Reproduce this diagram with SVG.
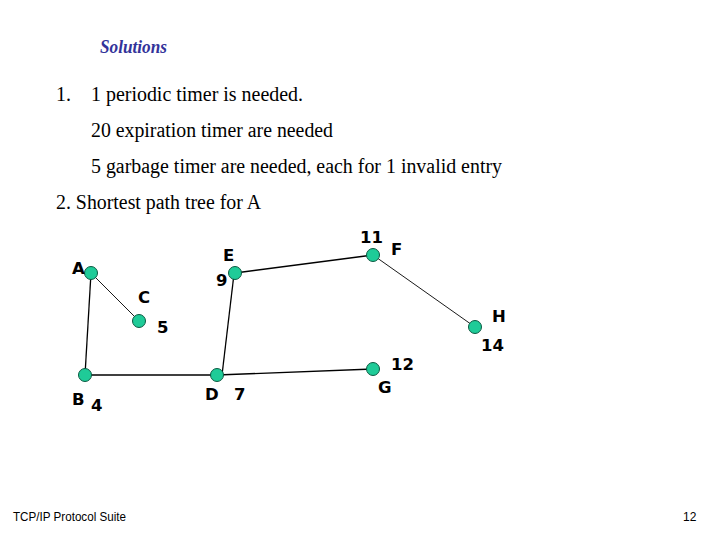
<svg xmlns="http://www.w3.org/2000/svg" width="720" height="540" viewBox="0 0 720 540">
<style>
.body{font-family:"Liberation Serif","Times New Roman",serif;font-size:20px;fill:#000}
.lbl{font-family:"DejaVu Sans",Verdana,sans-serif;font-size:16.5px;font-weight:bold;fill:#000}
.node{fill:#1fcb98;stroke:#0b5a42;stroke-width:1}
.edge{stroke:#000;stroke-width:1.3;fill:none}
.thin{stroke:#000;stroke-width:0.9;fill:none}
.foot{font-family:"Liberation Sans",Arial,sans-serif;font-size:12px;fill:#000}
</style>
<rect width="720" height="540" fill="#fff"/>
<text x="100" y="53" font-family="Liberation Serif,serif" font-style="italic" font-weight="bold" font-size="18" fill="#33339a" textLength="67" lengthAdjust="spacingAndGlyphs">Solutions</text>
<text class="body" x="56" y="101">1.</text>
<text class="body" x="91" y="101" textLength="212" lengthAdjust="spacingAndGlyphs">1 periodic timer is needed.</text>
<text class="body" x="91" y="137" textLength="242" lengthAdjust="spacingAndGlyphs">20 expiration timer are needed</text>
<text class="body" x="91" y="173" textLength="411" lengthAdjust="spacingAndGlyphs">5 garbage timer are needed, each for 1 invalid entry</text>
<text class="body" x="56" y="209" textLength="205" lengthAdjust="spacingAndGlyphs">2. Shortest path tree for A</text>
<g id="connectors">
<line class="thin" x1="91" y1="273" x2="139" y2="321"/>
<line class="edge" x1="91" y1="273" x2="85" y2="375"/>
<line class="edge" x1="85" y1="375" x2="217" y2="375"/>
<line class="edge" x1="222" y1="375" x2="234" y2="274"/>
<line class="edge" x1="235" y1="273" x2="373" y2="255"/>
<line class="thin" x1="373" y1="255" x2="475" y2="327"/>
<line class="edge" x1="217" y1="375" x2="373" y2="369"/>
</g>
<g id="node-A"><circle class="node" cx="91" cy="273" r="6.5"/><text class="lbl" x="72" y="274">A</text></g>
<g id="node-B"><circle class="node" cx="85" cy="375" r="6.5"/><text class="lbl" x="72" y="405">B</text><text class="lbl" x="91" y="411">4</text></g>
<g id="node-C"><circle class="node" cx="139" cy="321" r="6.5"/><text class="lbl" x="138" y="303">C</text><text class="lbl" x="157" y="333">5</text></g>
<g id="node-D"><circle class="node" cx="217" cy="375" r="6.5"/><text class="lbl" x="205" y="400">D</text><text class="lbl" x="234" y="400">7</text></g>
<g id="node-E"><circle class="node" cx="235" cy="273" r="6.5"/><text class="lbl" x="223" y="261">E</text><text class="lbl" x="216" y="286">9</text></g>
<g id="node-F"><circle class="node" cx="373" cy="255" r="6.5"/><text class="lbl" x="360" y="243">11</text><text class="lbl" x="391" y="255">F</text></g>
<g id="node-G"><circle class="node" cx="373" cy="369" r="6.5"/><text class="lbl" x="391" y="370">12</text><text class="lbl" x="378" y="393">G</text></g>
<g id="node-H"><circle class="node" cx="475" cy="327" r="6.5"/><text class="lbl" x="492" y="322">H</text><text class="lbl" x="481" y="351">14</text></g>
<text class="foot" x="13" y="521" textLength="113" lengthAdjust="spacingAndGlyphs">TCP/IP Protocol Suite</text>
<text class="foot" x="683" y="521" font-size="13">12</text>
</svg>
